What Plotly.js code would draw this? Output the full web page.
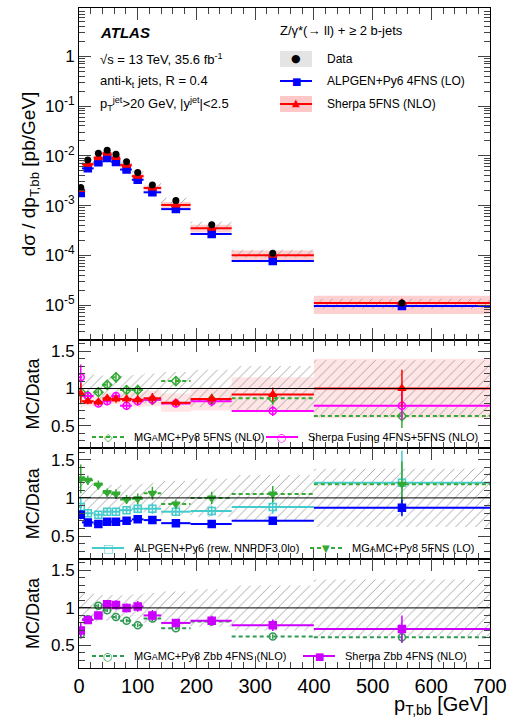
<!DOCTYPE html>
<html>
<head>
<meta charset="utf-8">
<script src="https://cdn.plot.ly/plotly-3.0.1.min.js"></script>
<style>body{margin:0;background:#fff}#plot{width:508px;height:719px}</style>
</head>
<body>
<div id="plot"></div>
<script>
// bins in p_T,bb [GeV]
const binEdges = [0, 5, 25, 40, 55, 70, 90, 110, 140, 190, 260, 400, 700];
const binCenters = [3, 15, 33, 48, 63, 81, 100, 125, 165, 226, 330, 550];

// cross sections [pb/GeV]
const dataXs = [2.3e-3, 8.2e-3, 1.12e-2, 1.3e-2, 1.08e-2, 7.6e-3, 4.6e-3, 2.6e-3, 1.27e-3, 4.1e-4, 1.1e-4, 1.1e-5];
const dataErr = [0.25, 0.2, 0.18, 0.17, 0.17, 0.17, 0.18, 0.2, 0.22, 0.25, 0.3, 0.38];
const alpgenXs = [1.8e-3, 5.6e-3, 7.4e-3, 9.0e-3, 7.5e-3, 5.3e-3, 3.3e-3, 1.85e-3, 8.5e-4, 2.7e-4, 7.7e-5, 9.6e-6];
const sherpaXs = [2.1e-3, 6.8e-3, 9.2e-3, 1.13e-2, 9.3e-3, 6.5e-3, 3.9e-3, 2.26e-3, 1.03e-3, 3.5e-4, 1.0e-4, 1.1e-5];
const sherpaErr = [0.1, 0.08, 0.08, 0.08, 0.08, 0.1, 0.12, 0.12, 0.15, 0.18, 0.25, 0.4];

// MC / Data ratios
const rSherpa5 = [0.93, 0.83, 0.82, 0.87, 0.86, 0.86, 0.85, 0.87, 0.81, 0.86, 0.92, 1.0];
const rSherpaFus = [1.15, 0.9, 0.8, 0.83, 0.9, 0.77, 0.83, 0.85, 0.8, 0.83, 0.7, 0.77];
const rMg5Nlo = [0.95, 0.9, 0.95, 1.05, 1.15, 0.98, 0.98, 0.85, 1.1, 0.85, 0.87, 0.63];
const rAlpgen = [0.78, 0.68, 0.66, 0.69, 0.69, 0.7, 0.72, 0.71, 0.67, 0.66, 0.7, 0.87];
const rAlpgenRew = [0.88, 0.8, 0.78, 0.82, 0.82, 0.84, 0.86, 0.86, 0.82, 0.83, 0.88, 1.2];
const rMg5Lo = [1.25, 1.23, 1.17, 1.07, 1.05, 0.98, 0.99, 1.06, 0.92, 1.0, 1.05, 1.18];
const rMgZbb = [0.65, 0.85, 1.03, 0.97, 0.88, 0.83, 0.77, 0.86, 0.73, 0.82, 0.62, 0.61];
const rSherpaZbb = [0.7, 0.84, 0.9, 1.05, 1.04, 1.0, 1.02, 0.9, 0.8, 0.83, 0.77, 0.72];
const statErr = [0.15, 0.05, 0.05, 0.05, 0.06, 0.06, 0.07, 0.08, 0.06, 0.08, 0.1, 0.25];

const RED = '#ff0000', BLUE = '#0000ff', GREEN = '#33aa33', MAG = '#ff00ff', CYAN = '#44cccc', DGREEN = '#2e9950', VIOL = '#cc00ff';
const DASH = '4px,3px';

function rects(center, rel, ax, pattern, fillcolor) {
  const x = [], y = [];
  for (let i = 0; i < center.length; i++) {
    const lo = center[i] * (1 - rel[i]), hi = center[i] * (1 + rel[i]);
    x.push(binEdges[i], binEdges[i + 1], binEdges[i + 1], binEdges[i], binEdges[i], null);
    y.push(lo, lo, hi, hi, lo, null);
  }
  const t = {x, y, xaxis: ax[0], yaxis: ax[1], mode: 'none', fill: 'toself', hoverinfo: 'skip', fillcolor: fillcolor};
  if (pattern) t.fillpattern = {shape: '/', fgcolor: '#999', bgcolor: 'rgba(255,255,255,0)', size: 7, solidity: 0.12};
  return t;
}

function steps(vals, ax, color, dash, width) {
  const x = [], y = [];
  vals.forEach((v, i) => { x.push(binEdges[i], binEdges[i + 1], null); y.push(v, v, null); });
  return {x, y, xaxis: ax[0], yaxis: ax[1], mode: 'lines', line: {color, dash: dash || 'solid', width: width || 2}, hoverinfo: 'skip'};
}

function pts(vals, ax, color, symbol, err, size) {
  return {x: binCenters, y: vals, xaxis: ax[0], yaxis: ax[1], mode: 'markers',
    marker: {color, symbol, size: size || 7, line: {color, width: 1.5}},
    error_y: err ? {type: 'data', array: vals.map((v, i) => v * err[i]), color, thickness: 1.5, width: 0} : undefined};
}

const ONE = binCenters.map(() => 1);
const A1 = ['x', 'y'], A2 = ['x2', 'y2'], A3 = ['x3', 'y3'], A4 = ['x4', 'y4'];

const traces = [
  rects(sherpaXs, sherpaErr, A1, false, 'rgba(255,120,120,0.35)'),
  rects(dataXs, dataErr.map(e => e * 0.6), A1, true, 'rgba(0,0,0,0)'),
  steps(alpgenXs, A1, BLUE), pts(alpgenXs, A1, BLUE, 'square', statErr.map(e => e * 0.3)),
  steps(sherpaXs, A1, RED), pts(sherpaXs, A1, RED, 'triangle-up', statErr.map(e => e * 0.3)),
  {x: binCenters, y: dataXs, xaxis: 'x', yaxis: 'y', mode: 'markers', marker: {color: '#000', size: 7},
    error_y: {type: 'data', array: dataXs.map((v, i) => v * statErr[i] * 0.3), color: '#000', thickness: 1, width: 0}},

  rects(rSherpa5, sherpaErr, A2, false, 'rgba(255,150,150,0.25)'),
  rects(ONE, dataErr, A2, true, 'rgba(0,0,0,0)'),
  steps(rMg5Nlo, A2, GREEN, DASH), pts(rMg5Nlo, A2, GREEN, 'diamond-open', statErr),
  steps(rSherpaFus, A2, MAG), pts(rSherpaFus, A2, MAG, 'circle-open', statErr),
  steps(rSherpa5, A2, RED), pts(rSherpa5, A2, RED, 'triangle-up', statErr),

  rects(ONE, dataErr, A3, true, 'rgba(0,0,0,0)'),
  steps(rAlpgenRew, A3, CYAN), pts(rAlpgenRew, A3, CYAN, 'square-open', statErr.map((e, i) => i == 11 ? 0.35 : e)),
  steps(rMg5Lo, A3, GREEN, DASH), pts(rMg5Lo, A3, GREEN, 'triangle-down', statErr),
  steps(rAlpgen, A3, BLUE), pts(rAlpgen, A3, BLUE, 'square', statErr.map(e => e * 0.5)),

  rects(ONE, dataErr, A4, true, 'rgba(0,0,0,0)'),
  steps(rMgZbb, A4, DGREEN, DASH), pts(rMgZbb, A4, DGREEN, 'circle-open', statErr.map(e => e * 0.5)),
  steps(rSherpaZbb, A4, VIOL), pts(rSherpaZbb, A4, VIOL, 'square', statErr)
];

const F = 'Liberation Sans, Arial, sans-serif';
const xbase = {range: [0, 700], ticks: 'inside', ticklen: 12, minor: {ticks: 'inside', ticklen: 6, dtick: 20}, dtick: 100,
  showline: true, mirror: 'ticks', linecolor: '#000', showgrid: false, zeroline: false, tickfont: {family: F, size: 20}};
const rbase = {range: [0.2, 1.65], tickvals: [0.5, 1, 1.5], ticktext: ['0.5', '1', '1.5'], ticks: 'inside', ticklen: 12,
  minor: {ticks: 'inside', ticklen: 6, dtick: 0.1}, showline: true, mirror: 'ticks', linecolor: '#000', showgrid: false, zeroline: false,
  tickfont: {family: F, size: 17}, title: {text: 'MC/Data', font: {family: F, size: 18}, standoff: 6}};

const logVals = [1e-5, 1e-4, 1e-3, 1e-2, 1e-1, 1];
const minorLog = [];
[1e-6, 1e-5, 1e-4, 1e-3, 1e-2, 1e-1, 1].forEach(d => { for (let k = 2; k < 10; k++) minorLog.push(d * k); });

const layout = {
  width: 508, height: 719, margin: {l: 79, r: 18, t: 8, b: 51}, showlegend: false,
  paper_bgcolor: '#fff', plot_bgcolor: '#fff', font: {family: F, color: '#000'},
  xaxis: Object.assign({}, xbase, {anchor: 'y', showticklabels: false}),
  xaxis2: Object.assign({}, xbase, {anchor: 'y2', showticklabels: false, matches: 'x'}),
  xaxis3: Object.assign({}, xbase, {anchor: 'y3', showticklabels: false, matches: 'x'}),
  xaxis4: Object.assign({}, xbase, {anchor: 'y4', matches: 'x'}),
  yaxis: {domain: [0.497, 1], type: 'log', range: [-5.7, 0.97], tickvals: logVals,
    ticktext: ['10<sup>-5</sup>', '10<sup>-4</sup>', '10<sup>-3</sup>', '10<sup>-2</sup>', '10<sup>-1</sup>', '1'],
    ticks: 'inside', ticklen: 12, minor: {ticks: 'inside', ticklen: 6, tickvals: minorLog}, showline: true, mirror: 'ticks',
    linecolor: '#000', showgrid: false, zeroline: false, tickfont: {family: F, size: 17},
    title: {text: 'dσ / dp<sub>T,bb</sub> [pb/GeV]', font: {family: F, size: 19}, standoff: 4}},
  yaxis2: Object.assign({}, rbase, {domain: [0.333, 0.497], anchor: 'x2'}),
  yaxis3: Object.assign({}, rbase, {domain: [0.165, 0.333], anchor: 'x3'}),
  yaxis4: Object.assign({}, rbase, {domain: [0, 0.165], anchor: 'x4'}),
  shapes: [], annotations: []
};

['y2', 'y3', 'y4'].forEach((ya, i) => layout.shapes.push({type: 'line', xref: 'x' + (i + 2), yref: ya, x0: 0, x1: 700, y0: 1, y1: 1, line: {color: '#000', width: 1}}));

function txt(x, y, text, size, extra) {
  layout.annotations.push(Object.assign({xref: 'paper', yref: 'paper', x, y, text, showarrow: false, xanchor: 'left', yanchor: 'middle',
    font: {family: F, size: size || 13}}, extra || {}));
}
function px(xp) { return (xp - 79) / 411; }
function py(yp) { return (668 - yp) / 660; }
function legLine(x0, x1, yp, color, dash) {
  layout.shapes.push({type: 'line', xref: 'paper', yref: 'paper', x0: px(x0), x1: px(x1), y0: py(yp), y1: py(yp), line: {color, width: 2, dash: dash || 'solid'}});
}
function legBox(x0, x1, yp, fill) {
  layout.shapes.push({type: 'rect', xref: 'paper', yref: 'paper', x0: px(x0), x1: px(x1), y0: py(yp + 8), y1: py(yp - 8),
    fillcolor: fill, line: {width: 0}});
}
function glyph(xp, yp, g, color, size) {
  txt(px(xp), py(yp), g, size || 12, {xanchor: 'center', font: {family: 'DejaVu Sans', size: size || 12, color}});
}

// main panel text
txt(px(98), py(32), '<b><i>ATLAS</i></b>', 15);
txt(px(98), py(59), '√s = 13 TeV, 35.6 fb<sup>-1</sup>', 13);
txt(px(98), py(81), 'anti-k<sub>t</sub> jets, R = 0.4', 13);
txt(px(98), py(104), 'p<sub>T</sub><sup>jet</sup>>20 GeV, |y<sup>jet</sup>|<2.5', 13);
txt(px(278), py(31), 'Z/γ*(→ ll) + ≥ 2 b-jets', 13);

legBox(280, 312, 59, 'rgba(210,210,210,0.6)');
glyph(296, 58, '●', '#000', 11);
txt(px(325), py(59), 'Data', 12);
legLine(280, 312, 81, BLUE); glyph(296, 81, '■', BLUE, 10);
txt(px(325), py(81), 'ALPGEN+Py6 4FNS (LO)', 12);
legBox(280, 312, 104, 'rgba(255,130,130,0.45)'); legLine(280, 312, 104, RED); glyph(296, 103, '▲', RED, 10);
txt(px(325), py(104), 'Sherpa 5FNS (NLO)', 12);

// ratio legends
legLine(92, 124, 437, GREEN, DASH); glyph(108, 437, '◇', GREEN, 11);
txt(px(132), py(437), 'MG<span style="font-size:9px">A</span>MC+Py8 5FNS (NLO)', 11);
legLine(266, 298, 437, MAG); glyph(282, 437, '○', MAG, 11);
txt(px(306), py(437), 'Sherpa Fusing 4FNS+5FNS (NLO)', 11);
legLine(92, 124, 548, CYAN); glyph(108, 548, '□', CYAN, 11);
txt(px(132), py(548), 'ALPGEN+Py6 (rew. NNPDF3.0lo)', 11);
legLine(310, 342, 548, GREEN, DASH); glyph(326, 548, '▼', GREEN, 10);
txt(px(350), py(548), 'MG<span style="font-size:9px">A</span>MC+Py8 5FNS (LO)', 11);
legLine(92, 124, 656, DGREEN, DASH); glyph(108, 656, '○', DGREEN, 11);
txt(px(132), py(656), 'MG<span style="font-size:9px">A</span>MC+Py8 Zbb 4FNS (NLO)', 11);
legLine(303, 335, 656, VIOL); glyph(319, 656, '■', VIOL, 10);
txt(px(343), py(656), 'Sherpa Zbb 4FNS (NLO)', 11);

txt(1, py(705), 'p<sub>T,bb</sub> [GeV]', 20, {xanchor: 'right'});

Plotly.newPlot('plot', traces, layout, {displayModeBar: false, staticPlot: true});
</script>
</body>
</html>
